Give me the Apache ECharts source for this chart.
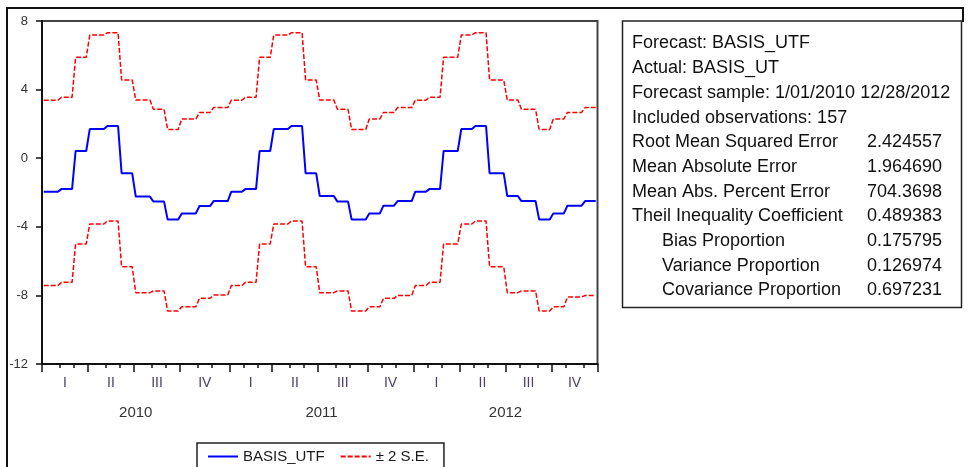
<!DOCTYPE html>
<html>
<head>
<meta charset="utf-8">
<script src="https://cdn.jsdelivr.net/npm/echarts@6/dist/echarts.min.js"></script>
<style>
html, body { margin: 0; padding: 0; background: #fff; }
#chart { width: 969px; height: 467px; }
</style>
</head>
<body>
<div id="chart"></div>
<script>
// monthly levels, Jan 2010 .. Dec 2012
// (a weekly obs takes the level of the month its start date falls in)
var forecastMonthly = [
    -1.95, -1.80, 0.42, 1.70, 1.88, -0.88, -2.24, -2.53, -3.57, -3.22, -2.79, -2.50,
    -1.95, -1.80, 0.42, 1.70, 1.88, -0.88, -2.21, -2.53, -3.57, -3.22, -2.77, -2.50,
    -1.95, -1.80, 0.42, 1.70, 1.88, -0.88, -2.21, -2.50, -3.57, -3.22, -2.77, -2.50
];
var upperMonthly = [
    3.38, 3.55, 5.88, 7.18, 7.32, 4.56, 3.39, 2.85, 1.68, 2.29, 2.67, 2.95,
    3.38, 3.55, 5.88, 7.18, 7.32, 4.56, 3.39, 2.85, 1.68, 2.29, 2.67, 2.95,
    3.38, 3.55, 5.88, 7.18, 7.32, 4.56, 3.39, 2.85, 1.68, 2.29, 2.67, 2.95
];
var lowerMonthly = [
    -7.43, -7.24, -5.00, -3.84, -3.66, -6.33, -7.84, -7.74, -8.91, -8.66, -8.17, -7.98,
    -7.43, -7.24, -5.00, -3.84, -3.66, -6.33, -7.84, -7.74, -8.91, -8.66, -8.17, -8.00,
    -7.43, -7.24, -5.00, -3.84, -3.66, -6.33, -7.84, -7.74, -8.91, -8.66, -8.10, -8.00
];
var quarterNames = ['I', 'II', 'III', 'IV'];
var yearNames = ['2010', '2011', '2012'];

var statLabels = [
    'Forecast: BASIS_UTF',
    'Actual: BASIS_UT',
    'Forecast sample: 1/01/2010 12/28/2012',
    'Included observations: 157',
    'Root Mean Squared Error',
    'Mean Absolute Error',
    'Mean Abs. Percent Error',
    'Theil Inequality Coefficient',
    '     Bias Proportion',
    '     Variance Proportion',
    '     Covariance Proportion'
];
var statValues = ['', '', '', '', '2.424557', '1.964690', '704.3698', '0.489383', '0.175795', '0.126974', '0.697231'];

// weekly dates 1/01/2010 .. 12/28/2012
var DAY = 86400000;
var start = Date.UTC(2010, 0, 1);
var nWeeks = 157;
var monthOf = [];
for (var w = 0; w < nWeeks; w++) {
    var d = new Date(start + w * 7 * DAY);
    monthOf.push((d.getUTCFullYear() - 2010) * 12 + d.getUTCMonth());
}

var monthTicks = [-0.5], quarterTicks = [-0.5], yearTicks = [-0.5];
for (w = 1; w < nWeeks; w++) {
    if (monthOf[w] != monthOf[w - 1]) {
        monthTicks.push(w - 0.5);
        if (monthOf[w] % 3 == 0) quarterTicks.push(w - 0.5);
        if (monthOf[w] % 12 == 0) yearTicks.push(w - 0.5);
    }
}
monthTicks.push(nWeeks - 0.5);
quarterTicks.push(nWeeks - 0.5);
yearTicks.push(nWeeks - 0.5);

var quarterMids = [], yearMids = [];
for (var i = 0; i < quarterTicks.length - 1; i++) quarterMids.push((quarterTicks[i] + quarterTicks[i + 1]) / 2);
for (i = 0; i < yearTicks.length - 1; i++) yearMids.push((yearTicks[i] + yearTicks[i + 1]) / 2);

function findLabel(mids, names, v) {
    for (var k = 0; k < mids.length; k++) {
        if (Math.abs(mids[k] - v) < 1e-6) return names[k % names.length];
    }
    return '';
}

var forecastData = [], upperData = [], lowerData = [];
for (w = 0; w < nWeeks; w++) {
    forecastData.push([w, forecastMonthly[monthOf[w]]]);
    upperData.push([w, upperMonthly[monthOf[w]]]);
    lowerData.push([w, lowerMonthly[monthOf[w]]]);
}

var FONT = '"Liberation Sans", Arial, sans-serif';

// outer frame + text panel on the right
var graphics = [
    {
        type: 'polyline',
        shape: { points: [[7, 470], [7, 8], [963, 8], [963, 22]] },
        style: { stroke: '#111', lineWidth: 2, fill: null }
    },
    {
        type: 'rect',
        shape: { x: 622.5, y: 21, width: 339, height: 286.5 },
        style: { stroke: '#222', lineWidth: 1.5, fill: '#fff' }
    }
];
for (i = 0; i < statLabels.length; i++) {
    var lab = statLabels[i];
    var indent = lab.indexOf('     ') == 0;
    graphics.push({
        type: 'text',
        style: {
            text: lab.trim(), x: indent ? 662 : 632, y: 43.5 + i * 24.7,
            fill: '#111', font: '18px ' + FONT, verticalAlign: 'middle'
        }
    });
    if (statValues[i] != '') {
        graphics.push({
            type: 'text',
            style: {
                text: statValues[i], x: 867, y: 43.5 + i * 24.7,
                fill: '#111', font: '18px ' + FONT, verticalAlign: 'middle'
            }
        });
    }
}

var chart = echarts.init(document.getElementById('chart'));
var option = {
    animation: false,
    backgroundColor: '#fff',
    grid: {
        left: 42, top: 21, right: 371.5, bottom: 103,
        show: true, borderColor: '#444', borderWidth: 2,
        backgroundColor: 'transparent',
        outerBoundsMode: 'none'
    },
    legend: {
        data: ['BASIS_UTF', '± 2 S.E.'],
        left: 197, top: 443,
        padding: [6, 15, 6, 10],
        itemWidth: 30, itemHeight: 14, itemGap: 15,
        itemStyle: { opacity: 0 },
        borderColor: '#222', borderWidth: 1.5,
        textStyle: { fontSize: 15, color: '#1a1a1a', fontFamily: FONT }
    },
    xAxis: [
        {
            type: 'value', min: -0.5, max: nWeeks - 0.5,
            splitLine: { show: false },
            axisLine: { show: true, onZero: false, lineStyle: { color: '#111', width: 2 } },
            axisTick: { show: true, customValues: monthTicks, length: 4, lineStyle: { color: '#111', width: 1.5 } },
            axisLabel: {
                customValues: quarterMids, margin: 12,
                fontSize: 14, color: '#4d4060', fontFamily: FONT,
                formatter: function (v) { return findLabel(quarterMids, quarterNames, v); }
            }
        },
        {
            type: 'value', min: -0.5, max: nWeeks - 0.5, position: 'bottom',
            splitLine: { show: false },
            axisLine: { show: false, onZero: false },
            axisTick: { show: true, customValues: quarterTicks, length: 8, lineStyle: { color: '#111', width: 1.5 } },
            axisLabel: {
                customValues: yearMids, margin: 41,
                fontSize: 15, color: '#333', fontFamily: FONT,
                formatter: function (v) { return findLabel(yearMids, yearNames, v); }
            }
        }
    ],
    yAxis: {
        type: 'value', min: -12, max: 8, interval: 4,
        splitLine: { show: false },
        axisLine: { show: true, onZero: false, lineStyle: { color: '#111', width: 2 } },
        axisTick: { show: true, length: 6, lineStyle: { color: '#111', width: 1.5 } },
        axisLabel: { margin: 14, fontSize: 13, color: '#333', fontFamily: FONT }
    },
    series: [
        {
            name: '± 2 S.E.', type: 'line', data: upperData, symbol: 'none',
            lineStyle: { color: '#ff0000', width: 1.5, type: [5, 2] }, itemStyle: { color: '#ff0000' }
        },
        {
            name: '± 2 S.E.', type: 'line', data: lowerData, symbol: 'none',
            lineStyle: { color: '#ff0000', width: 1.5, type: [5, 2] }, itemStyle: { color: '#ff0000' }
        },
        {
            name: 'BASIS_UTF', type: 'line', data: forecastData, symbol: 'none',
            lineStyle: { color: '#0000ff', width: 2 }, itemStyle: { color: '#0000ff' }
        }
    ],
    graphic: graphics
};
chart.setOption(option);
</script>
</body>
</html>
